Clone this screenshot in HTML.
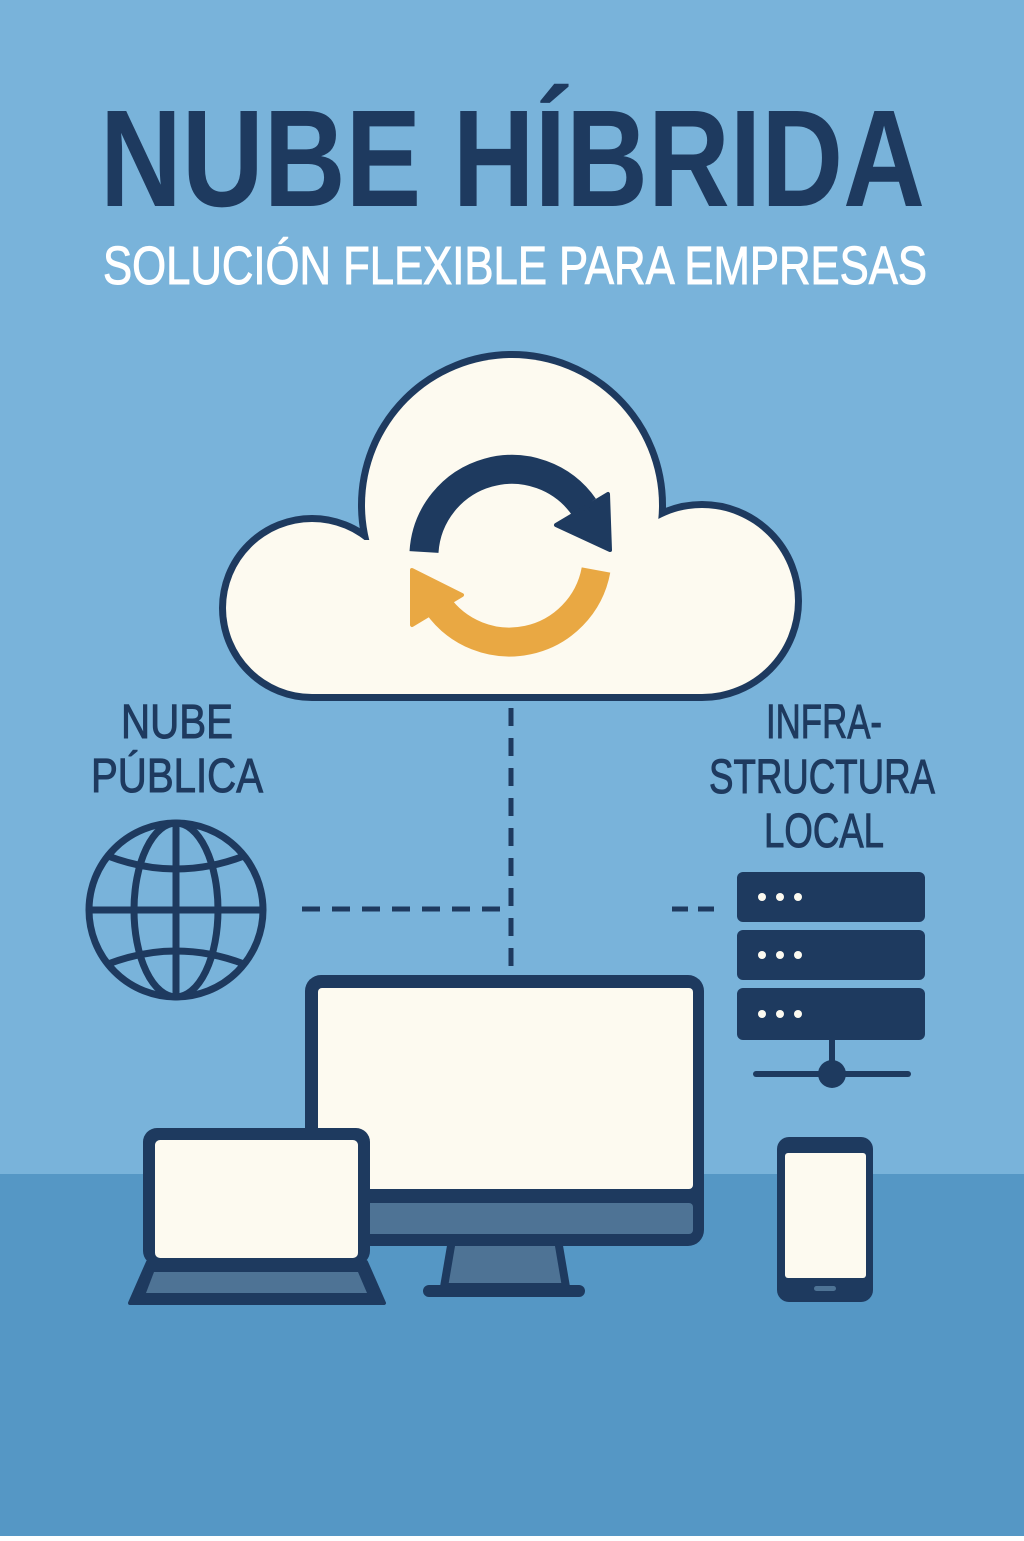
<!DOCTYPE html>
<html><head><meta charset="utf-8"><style>html,body{margin:0;padding:0}body{width:1024px;height:1536px;overflow:hidden}</style></head>
<body>
<svg width="1024" height="1536" viewBox="0 0 1024 1536" xmlns="http://www.w3.org/2000/svg">
<rect width="1024" height="1536" fill="#79b3da"/>
<rect y="1174" width="1024" height="362" fill="#5597c5"/>
<text x="100" y="206" font-family="Liberation Sans, sans-serif" font-weight="bold" font-size="138" fill="#1e3a5f" textLength="825" lengthAdjust="spacingAndGlyphs">NUBE HÍBRIDA</text>
<text x="103" y="284" font-family="Liberation Sans, sans-serif" font-size="54" fill="#ffffff" stroke="#ffffff" stroke-width="1" textLength="824" lengthAdjust="spacingAndGlyphs">SOLUCIÓN FLEXIBLE PARA EMPRESAS</text>
<!-- cloud -->
<g fill="#1e3a5f" stroke="#1e3a5f" stroke-width="14">
<circle cx="312" cy="608" r="86"/><circle cx="512" cy="505" r="147"/><circle cx="702" cy="601" r="93"/>
</g>
<rect x="312" y="560" width="390" height="141" fill="#1e3a5f"/>
<g fill="#fdfaf0">
<circle cx="312" cy="608" r="86"/><circle cx="512" cy="505" r="147"/><circle cx="702" cy="601" r="93"/><rect x="312" y="540" width="390" height="154"/>
</g>
<!-- sync arrows -->
<path d="M424 552 A88 88 0 0 1 584 507" fill="none" stroke="#1e3a5f" stroke-width="29"/>
<polygon points="556,525 608,494 610,550" fill="#1e3a5f" stroke="#1e3a5f" stroke-width="4" stroke-linejoin="round"/>
<path d="M596 570 A88 88 0 0 1 437 604" fill="none" stroke="#e9a843" stroke-width="29"/>
<polygon points="412,570 462,595 412,625" fill="#e9a843" stroke="#e9a843" stroke-width="4" stroke-linejoin="round"/>
<!-- dashed -->
<g stroke="#1e3a5f" stroke-width="5" stroke-dasharray="18 12" fill="none">
<line x1="511" y1="708" x2="511" y2="975"/>
<line x1="302" y1="909" x2="500" y2="909"/>
<line x1="672" y1="909" x2="718" y2="909" stroke-dasharray="16 10"/>
</g>
<!-- labels -->
<g font-family="Liberation Sans, sans-serif" font-size="48" fill="#1e3a5f" stroke="#1e3a5f" stroke-width="1" text-anchor="middle">
<text x="177" y="738" textLength="112" lengthAdjust="spacingAndGlyphs">NUBE</text>
<text x="177" y="792" textLength="172" lengthAdjust="spacingAndGlyphs">PÚBLICA</text>
<text x="824" y="738" textLength="116" lengthAdjust="spacingAndGlyphs">INFRA-</text>
<text x="822" y="793" textLength="226" lengthAdjust="spacingAndGlyphs">STRUCTURA</text>
<text x="824" y="847" textLength="120" lengthAdjust="spacingAndGlyphs">LOCAL</text>
</g>
<!-- globe -->
<g fill="none" stroke="#1e3a5f" stroke-width="7">
<circle cx="176" cy="910" r="87"/>
<ellipse cx="176" cy="910" rx="42" ry="87"/>
<line x1="176" y1="823" x2="176" y2="997"/>
<line x1="89" y1="910" x2="263" y2="910"/>
<path d="M108 856 Q176 882 244 856"/>
<path d="M108 964 Q176 938 244 964"/>
</g>
<!-- server -->
<g fill="#1e3a5f">
<rect x="737" y="872" width="188" height="50" rx="6"/>
<rect x="737" y="930" width="188" height="50" rx="6"/>
<rect x="737" y="988" width="188" height="52" rx="6"/>
<rect x="829" y="1040" width="6" height="35"/>
<rect x="753" y="1071" width="158" height="6" rx="3"/>
<circle cx="832" cy="1074" r="14"/>
</g>
<g fill="#fdfaf0">
<circle cx="762" cy="897" r="4"/><circle cx="780" cy="897" r="4"/><circle cx="798" cy="897" r="4"/>
<circle cx="762" cy="955" r="4"/><circle cx="780" cy="955" r="4"/><circle cx="798" cy="955" r="4"/>
<circle cx="762" cy="1014" r="4"/><circle cx="780" cy="1014" r="4"/><circle cx="798" cy="1014" r="4"/>
</g>
<!-- monitor -->
<polygon points="452,1240 558,1240 566,1287 444,1287" fill="#4e7395" stroke="#1e3a5f" stroke-width="8" stroke-linejoin="round"/>
<rect x="423" y="1285" width="162" height="12" rx="6" fill="#1e3a5f"/>
<rect x="305" y="975" width="399" height="271" rx="16" fill="#1e3a5f"/>
<rect x="318" y="988" width="375" height="201" rx="4" fill="#fdfaf0"/>
<rect x="362" y="1203" width="331" height="31" rx="4" fill="#4e7395"/>
<!-- laptop -->
<polygon points="148,1262 366,1262 384,1303 130,1303" fill="#1e3a5f" stroke="#1e3a5f" stroke-width="4" stroke-linejoin="round"/>
<polygon points="154,1272 358,1272 367,1293 146,1293" fill="#4e7395"/>
<rect x="143" y="1128" width="227" height="137" rx="14" fill="#1e3a5f"/>
<rect x="155" y="1140" width="203" height="118" rx="5" fill="#fdfaf0"/>
<!-- phone -->
<rect x="777" y="1137" width="96" height="165" rx="12" fill="#1e3a5f"/>
<rect x="785" y="1153" width="81" height="125" rx="3" fill="#fdfaf0"/>
<rect x="814" y="1286" width="22" height="5" rx="2.5" fill="#4e7395"/>
</svg>
</body></html>
